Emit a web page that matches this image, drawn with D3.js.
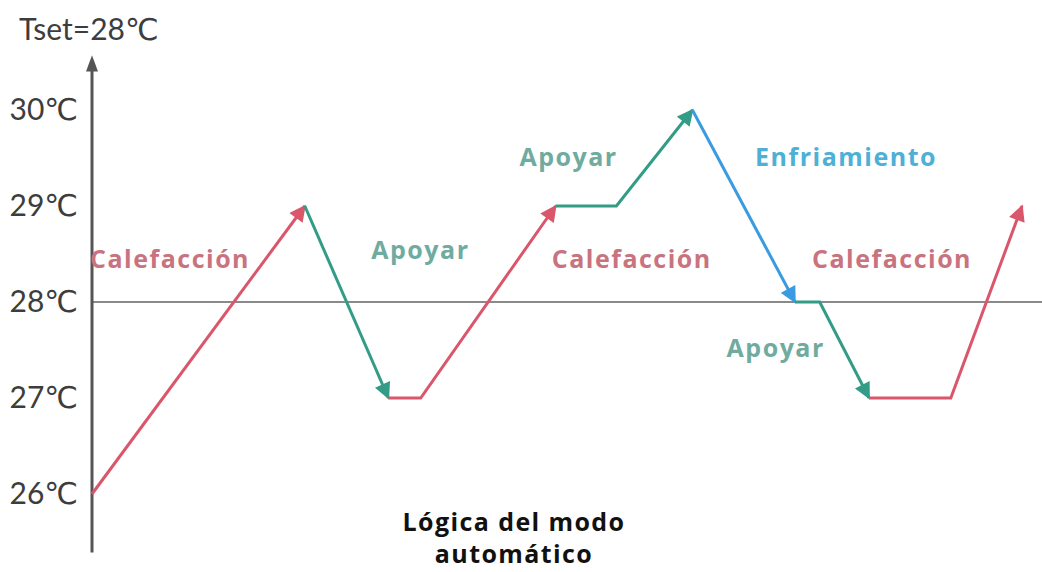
<!DOCTYPE html>
<html>
<head>
<meta charset="utf-8">
<script src="https://cdnjs.cloudflare.com/ajax/libs/d3/7.8.5/d3.min.js"></script>
<style>
  body { margin: 0; background: #fff; }
  svg { display: block; }
</style>
</head>
<body>
<svg width="1042" height="572"></svg>
<script>
var svg = d3.select("svg"),
    width = +svg.attr("width"),
    height = +svg.attr("height");

// temperature ticks
var tempTicks = [26, 27, 28, 29, 30];
var setPoint = 28;

// path segments: time (arbitrary units) and temperature, with the mode of each
var segTimes = [
  [0, 22.4],
  [22.4, 31.2],
  [31.2, 34.6, 48.8],
  [48.8, 55.2, 63.2],
  [63.2, 74],
  [74, 76.6, 81.8],
  [81.8, 90.4, 97.9]
];
var segTemps = [
  [26, 29],
  [29, 27],
  [27, 27, 29],
  [29, 29, 30],
  [30, 28],
  [28, 28, 27],
  [27, 27, 29]
];
var segModes = ["heat", "hold", "heat", "hold", "cool", "hold", "heat"];

// annotation labels
var labelText = ["Calefacción", "Apoyar", "Apoyar", "Enfriamiento", "Calefacción", "Calefacción", "Apoyar"];
var labelTime = [-0.2, 29.4, 45.0, 69.8, 48.4, 75.8, 66.8];
var labelTemp = [28.35, 28.45, 29.42, 29.42, 28.35, 28.35, 27.43];
var labelMode = ["heat", "hold", "hold", "cool", "heat", "heat", "hold"];

var lineColor = { heat: "#d9566b", hold: "#339c86", cool: "#3a9be0" };
var textColor = { heat: "#c9737e", hold: "#6fab9f", cool: "#4eb0d6" };

var x = d3.scaleLinear().domain([0, 100]).range([92, 1042]);
var y = d3.scaleLinear().domain([26, 30]).range([494, 110]);

// arrow markers
var defs = svg.append("defs");
Object.keys(lineColor).forEach(function(k) {
  defs.append("marker")
      .attr("id", "arr-" + k)
      .attr("viewBox", "0 0 10 10")
      .attr("refX", 9)
      .attr("refY", 5)
      .attr("markerWidth", 6)
      .attr("markerHeight", 5.5)
      .attr("markerUnits", "strokeWidth")
      .attr("orient", "auto")
    .append("path")
      .attr("d", "M0,0L10,5L0,10z")
      .attr("fill", lineColor[k]);
});

// set point line
svg.append("line")
    .attr("x1", x(0))
    .attr("x2", x(100))
    .attr("y1", y(setPoint))
    .attr("y2", y(setPoint))
    .attr("stroke", "#8a8a8a")
    .attr("stroke-width", 2);

// y axis
var axis = svg.append("g")
    .attr("transform", "translate(" + x(0) + ",0)")
    .call(d3.axisLeft(y)
      .tickValues(tempTicks)
      .tickSize(0)
      .tickPadding(14)
      .tickFormat(function(d) { return d + "℃"; }));
axis.select(".domain").remove();
axis.selectAll("text")
    .attr("font-family", "Lato, 'DejaVu Sans', sans-serif")
    .attr("font-size", 30)
    .attr("fill", "#3d3d3d");

svg.append("line")
    .attr("x1", x(0))
    .attr("x2", x(0))
    .attr("y1", y(25.39))
    .attr("y2", y(30.45))
    .attr("stroke", "#555")
    .attr("stroke-width", 3);
svg.append("path")
    .attr("d", d3.line()([[x(0) - 6, y(30.4)], [x(0), y(30.57)], [x(0) + 6, y(30.4)]]) + "Z")
    .attr("fill", "#555");

svg.append("text")
    .attr("x", 19)
    .attr("y", 40)
    .attr("font-family", "Lato, 'DejaVu Sans', sans-serif")
    .attr("font-size", 30)
    .attr("fill", "#3d3d3d")
    .text("Tset=28℃");

// mode segments
var line = d3.line()
    .x(function(d) { return x(d[0]); })
    .y(function(d) { return y(d[1]); });

svg.append("g")
  .selectAll("path")
  .data(segTimes)
  .enter().append("path")
    .attr("d", function(d, i) { return line(d.map(function(t, j) { return [t, segTemps[i][j]]; })); })
    .attr("fill", "none")
    .attr("stroke", function(d, i) { return lineColor[segModes[i]]; })
    .attr("stroke-width", 3)
    .attr("stroke-linejoin", "miter")
    .attr("marker-end", function(d, i) { return "url(#arr-" + segModes[i] + ")"; });

// labels
svg.append("g")
  .selectAll("text")
  .data(labelText)
  .enter().append("text")
    .attr("x", function(d, i) { return x(labelTime[i]); })
    .attr("y", function(d, i) { return y(labelTemp[i]); })
    .attr("font-family", "'Open Sans', sans-serif")
    .attr("font-weight", "bold")
    .attr("font-size", 25)
    .attr("letter-spacing", 1.5)
    .attr("fill", function(d, i) { return textColor[labelMode[i]]; })
    .text(function(d) { return d; });

// title
svg.append("text")
    .attr("text-anchor", "middle")
    .attr("font-family", "'Open Sans', sans-serif")
    .attr("font-weight", "bold")
    .attr("font-size", 25)
    .attr("letter-spacing", 1.4)
    .attr("fill", "#111")
  .selectAll("tspan")
  .data(["Lógica del modo", "automático"])
  .enter().append("tspan")
    .attr("x", 514)
    .attr("y", function(d, i) { return 531 + i * 32; })
    .text(function(d) { return d; });
</script>
</body>
</html>
